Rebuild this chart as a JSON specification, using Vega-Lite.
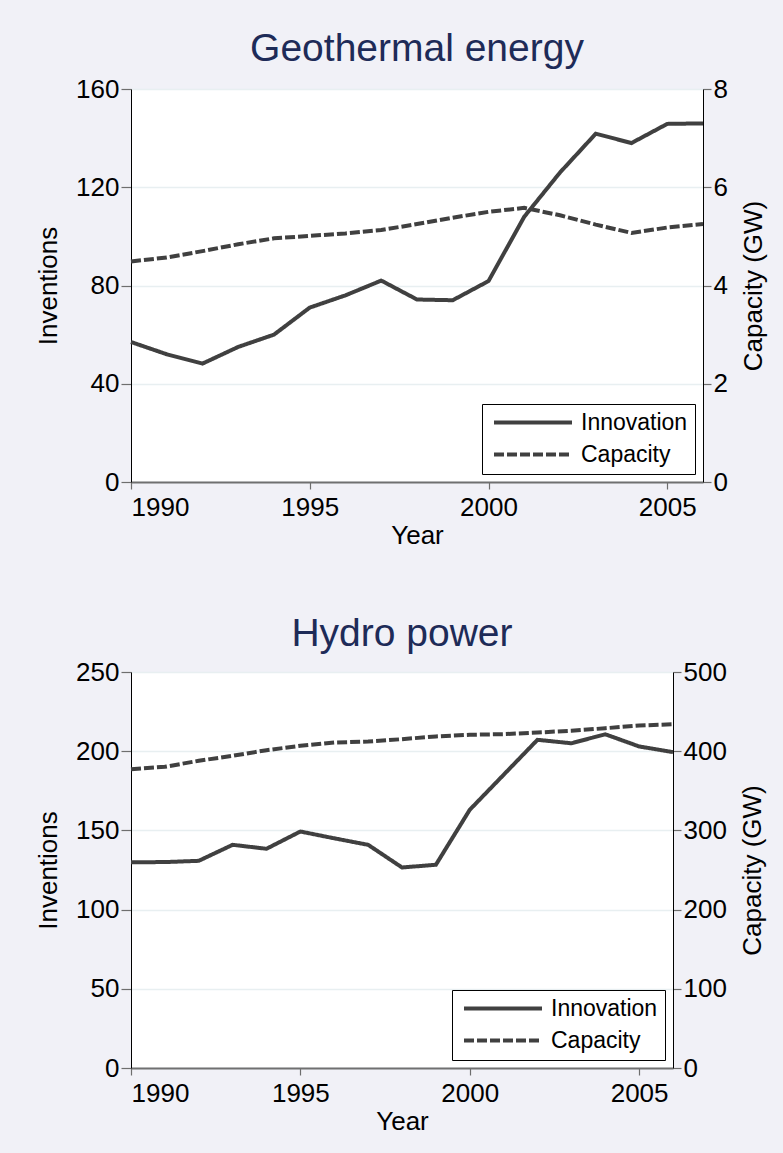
{
  "$schema": "https://vega.github.io/schema/vega-lite/v6.json",
  "background": "#f1f1f7",
  "padding": {"left": 35, "top": 30, "right": 18, "bottom": 22},
  "config": {
    "font": "Liberation Sans",
    "view": {"fill": "white", "stroke": null},
    "axis": {
      "labelFont": "Liberation Sans",
      "titleFont": "Liberation Sans",
      "labelFontSize": 26,
      "titleFontSize": 26,
      "titleFontWeight": "normal",
      "labelColor": "black",
      "titleColor": "black",
      "tickColor": "#6e6e6e",
      "tickWidth": 1.2,
      "domainColor": "black",
      "domainWidth": 1,
      "gridColor": "#e8eff1",
      "gridWidth": 1.5,
      "labelPadding": 2
    },
    "legend": {
      "orient": "bottom-right",
      "offset": 8,
      "strokeColor": "black",
      "fillColor": "white",
      "padding": 7,
      "labelFont": "Liberation Sans",
      "labelFontSize": 23,
      "labelColor": "black",
      "labelOffset": 69,
      "symbolType": "M-1,0L11,0",
      "symbolSize": 169,
      "symbolStrokeWidth": 4,
      "symbolStrokeColor": "#404040",
      "rowPadding": 8
    }
  },
  "datasets": {
    "geo": [
      {"year": 1990, "series": "Innovation", "value": 57},
      {"year": 1991, "series": "Innovation", "value": 52},
      {"year": 1992, "series": "Innovation", "value": 48.2},
      {"year": 1993, "series": "Innovation", "value": 55},
      {"year": 1994, "series": "Innovation", "value": 60},
      {"year": 1995, "series": "Innovation", "value": 71},
      {"year": 1996, "series": "Innovation", "value": 76},
      {"year": 1997, "series": "Innovation", "value": 82},
      {"year": 1998, "series": "Innovation", "value": 74.3},
      {"year": 1999, "series": "Innovation", "value": 74},
      {"year": 2000, "series": "Innovation", "value": 81.8},
      {"year": 2001, "series": "Innovation", "value": 108},
      {"year": 2002, "series": "Innovation", "value": 126},
      {"year": 2003, "series": "Innovation", "value": 141.8},
      {"year": 2004, "series": "Innovation", "value": 138},
      {"year": 2005, "series": "Innovation", "value": 145.8},
      {"year": 2006, "series": "Innovation", "value": 146},
      {"year": 1990, "series": "Capacity", "value": 4.49},
      {"year": 1991, "series": "Capacity", "value": 4.57},
      {"year": 1992, "series": "Capacity", "value": 4.70},
      {"year": 1993, "series": "Capacity", "value": 4.84},
      {"year": 1994, "series": "Capacity", "value": 4.96},
      {"year": 1995, "series": "Capacity", "value": 5.01},
      {"year": 1996, "series": "Capacity", "value": 5.06},
      {"year": 1997, "series": "Capacity", "value": 5.13},
      {"year": 1998, "series": "Capacity", "value": 5.25},
      {"year": 1999, "series": "Capacity", "value": 5.38},
      {"year": 2000, "series": "Capacity", "value": 5.50},
      {"year": 2001, "series": "Capacity", "value": 5.58},
      {"year": 2002, "series": "Capacity", "value": 5.43},
      {"year": 2003, "series": "Capacity", "value": 5.24},
      {"year": 2004, "series": "Capacity", "value": 5.07},
      {"year": 2005, "series": "Capacity", "value": 5.18},
      {"year": 2006, "series": "Capacity", "value": 5.25}
    ],
    "hydro": [
      {"year": 1990, "series": "Innovation", "value": 129.9},
      {"year": 1991, "series": "Innovation", "value": 130},
      {"year": 1992, "series": "Innovation", "value": 130.8},
      {"year": 1993, "series": "Innovation", "value": 140.9},
      {"year": 1994, "series": "Innovation", "value": 138.4},
      {"year": 1995, "series": "Innovation", "value": 149.3},
      {"year": 1996, "series": "Innovation", "value": 145},
      {"year": 1997, "series": "Innovation", "value": 140.9},
      {"year": 1998, "series": "Innovation", "value": 126.6},
      {"year": 1999, "series": "Innovation", "value": 128.3},
      {"year": 2000, "series": "Innovation", "value": 163},
      {"year": 2001, "series": "Innovation", "value": 185.1},
      {"year": 2002, "series": "Innovation", "value": 207.2},
      {"year": 2003, "series": "Innovation", "value": 205},
      {"year": 2004, "series": "Innovation", "value": 210.7},
      {"year": 2005, "series": "Innovation", "value": 203},
      {"year": 2006, "series": "Innovation", "value": 199.4},
      {"year": 1990, "series": "Capacity", "value": 377.3},
      {"year": 1991, "series": "Capacity", "value": 380.3},
      {"year": 1992, "series": "Capacity", "value": 387.9},
      {"year": 1993, "series": "Capacity", "value": 394.2},
      {"year": 1994, "series": "Capacity", "value": 401.3},
      {"year": 1995, "series": "Capacity", "value": 406.8},
      {"year": 1996, "series": "Capacity", "value": 411},
      {"year": 1997, "series": "Capacity", "value": 412.2},
      {"year": 1998, "series": "Capacity", "value": 415.2},
      {"year": 1999, "series": "Capacity", "value": 418.6},
      {"year": 2000, "series": "Capacity", "value": 420.7},
      {"year": 2001, "series": "Capacity", "value": 421.5},
      {"year": 2002, "series": "Capacity", "value": 423.6},
      {"year": 2003, "series": "Capacity", "value": 425.8},
      {"year": 2004, "series": "Capacity", "value": 429},
      {"year": 2005, "series": "Capacity", "value": 432.4},
      {"year": 2006, "series": "Capacity", "value": 434}
    ]
  },
  "spacing": 67,
  "resolve": {
    "scale": {"x": "independent", "y": "independent", "strokeDash": "independent"},
    "legend": {"strokeDash": "independent"}
  },
  "vconcat": [
    {
      "width": 572,
      "height": 393,
      "title": {"text": "Geothermal energy", "fontSize": 39, "fontWeight": "normal", "font": "Liberation Sans", "color": "#1e2b58", "frame": "group", "anchor": "middle", "offset": 7},
      "data": {"name": "geo"},
      "layer": [
        {
          "transform": [{"filter": "datum.series === 'Innovation'"}],
          "mark": {"type": "line", "strokeWidth": 4, "color": "#404040", "strokeCap": "butt"},
          "encoding": {
            "x": {"field": "year", "type": "quantitative", "scale": {"domain": [1990, 2006], "nice": false, "zero": false},
                  "axis": {"values": [1990, 1995, 2000, 2005], "format": "d", "title": "Year", "grid": false, "tickSize": 7, "labelPadding": 5, "titlePadding": 2, "domainColor": "#707070", "domainWidth": 2}},
            "y": {"field": "value", "type": "quantitative", "scale": {"domain": [0, 160], "nice": false},
                  "axis": {"orient": "left", "values": [0, 40, 80, 120, 160], "title": "Inventions", "grid": true, "tickSize": 10, "titlePadding": 14}},
            "strokeDash": {"field": "series", "type": "nominal", "scale": {"domain": ["Innovation", "Capacity"], "range": [[1, 0], [10, 3]]}, "legend": {"title": null}}
          }
        },
        {
          "transform": [{"filter": "datum.series === 'Capacity'"}],
          "mark": {"type": "line", "strokeWidth": 4, "color": "#404040", "strokeCap": "butt"},
          "encoding": {
            "x": {"field": "year", "type": "quantitative"},
            "y": {"field": "value", "type": "quantitative", "scale": {"domain": [0, 8], "nice": false},
                  "axis": {"orient": "right", "values": [0, 2, 4, 6, 8], "title": "Capacity (GW)", "titleAngle": -90, "titleBaseline": "top", "grid": false, "tickSize": 8, "titlePadding": 13}},
            "strokeDash": {"field": "series", "type": "nominal", "scale": {"domain": ["Innovation", "Capacity"], "range": [[1, 0], [10, 3]]}, "legend": {"title": null}}
          }
        }
      ],
      "resolve": {"scale": {"y": "independent"}}
    },
    {
      "width": 542,
      "height": 396,
      "title": {"text": "Hydro power", "fontSize": 39, "fontWeight": "normal", "font": "Liberation Sans", "color": "#1e2b58", "frame": "group", "anchor": "middle", "offset": 5},
      "data": {"name": "hydro"},
      "layer": [
        {
          "transform": [{"filter": "datum.series === 'Innovation'"}],
          "mark": {"type": "line", "strokeWidth": 4, "color": "#404040", "strokeCap": "butt"},
          "encoding": {
            "x": {"field": "year", "type": "quantitative", "scale": {"domain": [1990, 2006], "nice": false, "zero": false},
                  "axis": {"values": [1990, 1995, 2000, 2005], "format": "d", "title": "Year", "grid": false, "tickSize": 7, "labelPadding": 5, "titlePadding": 2, "domainColor": "#707070", "domainWidth": 2}},
            "y": {"field": "value", "type": "quantitative", "scale": {"domain": [0, 250], "nice": false},
                  "axis": {"orient": "left", "values": [0, 50, 100, 150, 200, 250], "title": "Inventions", "grid": true, "tickSize": 10, "titlePadding": 14}},
            "strokeDash": {"field": "series", "type": "nominal", "scale": {"domain": ["Innovation", "Capacity"], "range": [[1, 0], [10, 3]]}, "legend": {"title": null}}
          }
        },
        {
          "transform": [{"filter": "datum.series === 'Capacity'"}],
          "mark": {"type": "line", "strokeWidth": 4, "color": "#404040", "strokeCap": "butt"},
          "encoding": {
            "x": {"field": "year", "type": "quantitative"},
            "y": {"field": "value", "type": "quantitative", "scale": {"domain": [0, 500], "nice": false},
                  "axis": {"orient": "right", "values": [0, 100, 200, 300, 400, 500], "title": "Capacity (GW)", "titleAngle": -90, "titleBaseline": "top", "grid": false, "tickSize": 8, "titlePadding": 13}},
            "strokeDash": {"field": "series", "type": "nominal", "scale": {"domain": ["Innovation", "Capacity"], "range": [[1, 0], [10, 3]]}, "legend": {"title": null}}
          }
        }
      ],
      "resolve": {"scale": {"y": "independent"}}
    }
  ]
}
